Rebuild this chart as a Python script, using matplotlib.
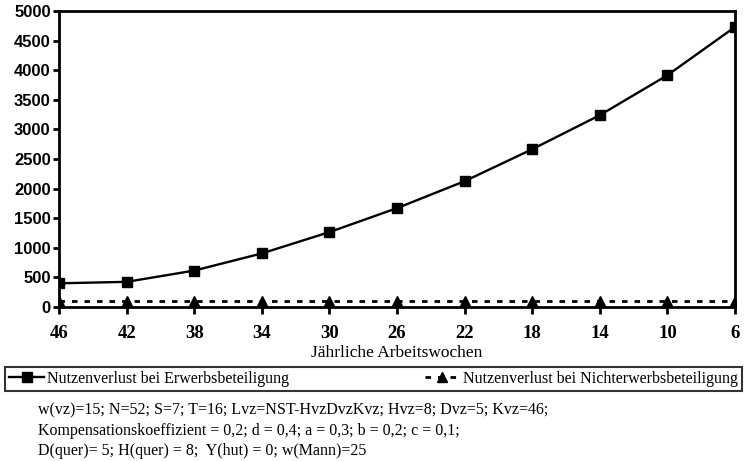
import numpy as np
import matplotlib.pyplot as plt
from matplotlib.lines import Line2D

# Jährliche Arbeitswochen (x-Kategorien)
wochen = ["46", "42", "38", "34", "30", "26", "22", "18", "14", "10", "6"]
# Nutzenverlust bei Erwerbsbeteiligung
verlust_erwerb = [400, 425, 615, 905, 1265, 1670, 2125, 2665, 3240, 3915, 4730]
# Nutzenverlust bei Nichterwerbsbeteiligung
verlust_nichterwerb = [95, 95, 95, 95, 95, 95, 95, 95, 95, 95, 95]

y_ticks = [0, 500, 1000, 1500, 2000, 2500, 3000, 3500, 4000, 4500, 5000]

fusstext = ("w(vz)=15; N=52; S=7; T=16; Lvz=NST-HvzDvzKvz; Hvz=8; Dvz=5; Kvz=46;\n"
            "Kompensationskoeffizient = 0,2; d = 0,4; a = 0,3; b = 0,2; c = 0,1;\n"
            "D(quer)= 5; H(quer) = 8;  Y(hut) = 0; w(Mann)=25")

plt.rcParams['font.family'] = ['Liberation Serif', 'DejaVu Serif']

fig = plt.figure(figsize=(7.44, 4.61), dpi=100)
ax = fig.add_axes([59 / 744, 1 - 307 / 461, (735 - 59) / 744, (307 - 11) / 461])

x = np.arange(len(wochen))
ax.plot(x, verlust_erwerb, color='black', lw=1.7, marker='s', ms=6.5)
ax.plot(x, verlust_nichterwerb, color='black', lw=2, ls=(0, (2, 2.5)),
        marker='^', ms=6.5)

ax.set_xlim(0, len(wochen) - 1)
ax.set_ylim(0, 5000)
ax.set_xticks(x)
ax.set_xticklabels(wochen, fontsize=13.5, fontweight='bold')
ax.set_yticks(y_ticks)
ax.set_yticklabels([str(v) for v in y_ticks], fontsize=12, fontweight='bold',
                   family=['Liberation Sans', 'DejaVu Sans'])
ax.tick_params(axis='x', direction='inout', length=10, width=2, pad=8)
ax.tick_params(axis='y', direction='out', length=4, width=2, pad=2)
for s in ax.spines.values():
    s.set_linewidth(2)

ax.set_xlabel('Jährliche Arbeitswochen', fontsize=12.5, labelpad=2)

# Legende als Rahmen unter dem Diagramm
handles = [
    Line2D([], [], color='black', lw=1.7, marker='s', ms=6.5),
    Line2D([], [], color='black', lw=2, ls=(0, (2, 2.5)), marker='^', ms=6.5),
]
leg = fig.legend(handles, ['Nutzenverlust bei Erwerbsbeteiligung',
                           'Nutzenverlust bei Nichterwerbsbeteiligung'],
                 loc='upper left',
                 bbox_to_anchor=(5 / 744, 1 - 367 / 461, 737 / 744, 0.0),
                 mode='expand', ncol=2, frameon=True, fancybox=False,
                 fontsize=11.5, handlelength=2.2, handletextpad=0.2,
                 borderpad=0.25, borderaxespad=0, edgecolor='black')
leg.get_frame().set_linewidth(1.5)

fig.text(38 / 744, 1 - 402 / 461, fusstext, fontsize=11.5, va='top', ha='left',
         linespacing=1.38)

fig.savefig('out.png', dpi=100)
